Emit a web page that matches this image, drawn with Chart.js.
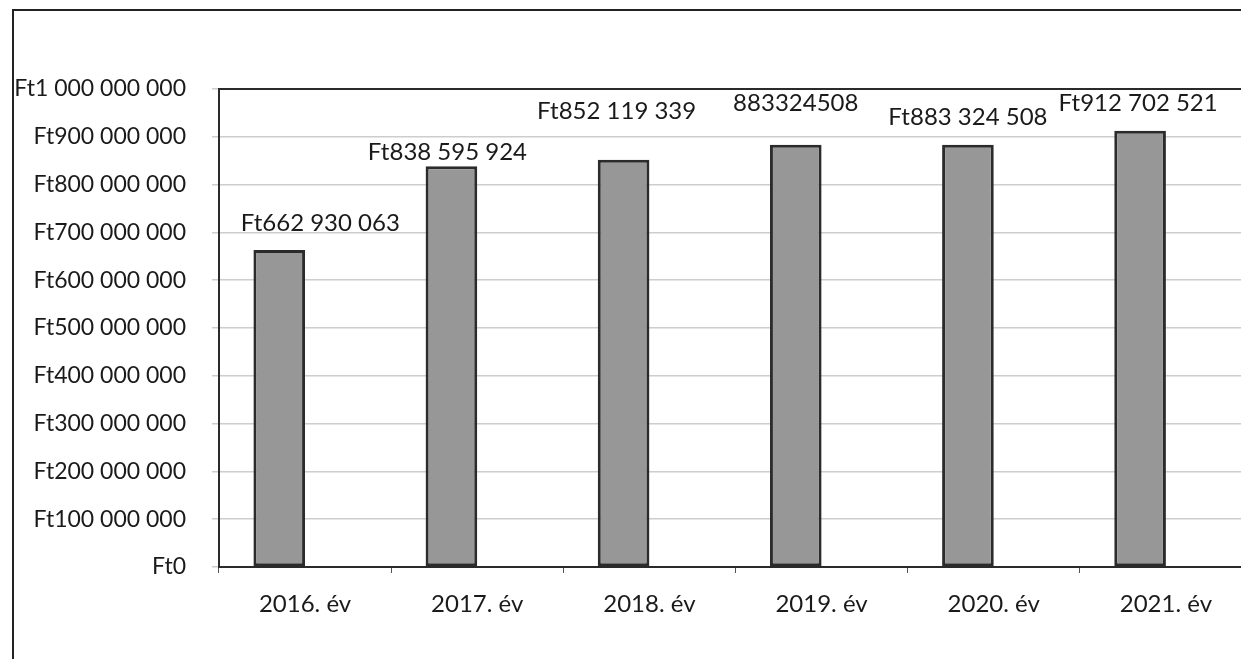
<!DOCTYPE html>
<html lang="hu">
<head>
<meta charset="utf-8">
<title>Ft / év</title>
<script src="https://cdn.jsdelivr.net/npm/chart.js@4/dist/chart.umd.min.js"></script>
<style>
  html, body { margin: 0; padding: 0; background: #fff; overflow: hidden; }
  #wrap { position: relative; width: 1241px; height: 659px; overflow: hidden; }
  #frame { position: absolute; left: 12px; top: 9px; width: 1240px; height: 660px;
           border-left: 2px solid #222; border-top: 2px solid #222; }
  #box { position: absolute; left: 0; top: 0; width: 1252px; height: 659px; }
</style>
</head>
<body>
<div id="wrap">
  <div id="frame"></div>
  <div id="box"><canvas id="chart"></canvas></div>
</div>
<script>
// data
const years = ['2016. év', '2017. év', '2018. év', '2019. év', '2020. év', '2021. év'];
const amounts = [662930063, 838595924, 852119339, 883324508, 883324508, 912702521];
const amountLabels = ['Ft662 930 063', 'Ft838 595 924', 'Ft852 119 339', '883324508', 'Ft883 324 508', 'Ft912 702 521'];
const emptySeries = [null, null, null, null, null, null]; // second (empty) series, pushes bars left like in Excel
const yTicks = [0, 100000000, 200000000, 300000000, 400000000, 500000000, 600000000, 700000000, 800000000, 900000000, 1000000000];

// where each label sits relative to its bar top (labels were dragged by hand)
const labelDx = [41, -4, -7, 0, 0, -2];
const labelRise = [27, 14, 48, 42, 28, 27];

const FONT = 'Lato, "Open Sans", sans-serif';

function ft(v) {
  return 'Ft' + String(v).replace(/\B(?=(\d{3})+(?!\d))/g, ' ');
}

const valueLabels = {
  id: 'valueLabels',
  afterDatasetsDraw(chart) {
    const ctx = chart.ctx;
    const meta = chart.getDatasetMeta(0);
    ctx.save();
    ctx.font = '24px ' + FONT;
    ctx.fillStyle = '#1a1a1a';
    ctx.textAlign = 'center';
    ctx.textBaseline = 'middle';
    meta.data.forEach((bar, i) => {
      ctx.fillText(amountLabels[i], bar.x + labelDx[i], bar.y - labelRise[i]);
    });
    ctx.restore();
  }
};

// dark line along top of plot area
const plotTop = {
  id: 'plotTop',
  afterDraw(chart) {
    const a = chart.chartArea;
    const ctx = chart.ctx;
    ctx.save();
    ctx.strokeStyle = '#2a2a2a';
    ctx.lineWidth = 2;
    ctx.beginPath();
    ctx.moveTo(a.left, a.top);
    ctx.lineTo(a.right, a.top);
    ctx.stroke();
    ctx.restore();
  }
};

new Chart(document.getElementById('chart'), {
  type: 'bar',
  data: {
    labels: years,
    datasets: [{
      data: amounts,
      backgroundColor: '#979797',
      borderColor: '#2b2b2b',
      borderWidth: 3,
      borderSkipped: false,
      categoryPercentage: 0.6,
      barPercentage: 1.0
    }, {
      data: emptySeries,
      backgroundColor: '#979797',
      categoryPercentage: 0.6,
      barPercentage: 1.0
    }]
  },
  options: {
    responsive: true,
    maintainAspectRatio: false,
    animation: false,
    layout: { padding: { top: 89, right: 0, bottom: 0, left: 0 } },
    plugins: {
      legend: { display: false },
      tooltip: { enabled: false }
    },
    scales: {
      x: {
        grid: { drawOnChartArea: false, tickLength: 6, color: '#555' },
        border: { color: '#2a2a2a', width: 2 },
        ticks: { color: '#1a1a1a', padding: 17, font: { family: FONT, size: 24 } },
        afterFit(s) { s.height = 92; }
      },
      y: {
        min: 0,
        max: 1000000000,
        afterBuildTicks(s) { s.ticks = yTicks.map(v => ({ value: v })); },
        grid: { color: '#cdcdcd', lineWidth: 1.5, tickLength: 7 },
        border: { color: '#2a2a2a', width: 2 },
        ticks: {
          color: '#1a1a1a',
          padding: 26,
          font: { family: FONT, size: 23 },
          callback: v => ft(v)
        },
        afterFit(s) { s.width = 219; }
      }
    }
  },
  plugins: [valueLabels, plotTop]
});
</script>
</body>
</html>
